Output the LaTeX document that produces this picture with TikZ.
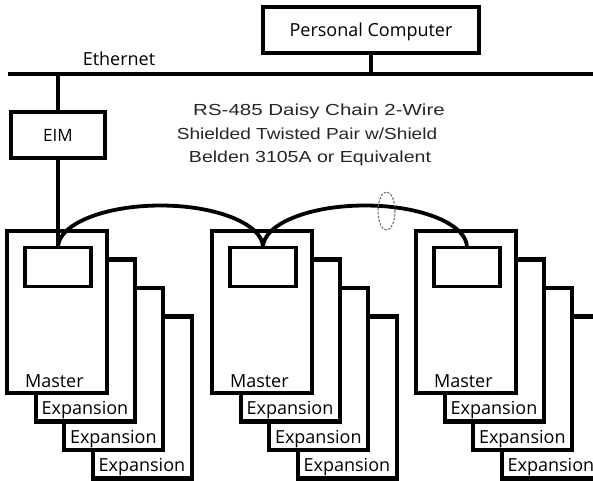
\documentclass[tikz,border=0pt]{standalone}
\usepackage{graphicx}
\usepackage{fontspec}
\setmainfont{Open Sans}
\newfontfamily\rsfont{Liberation Sans}
\usetikzlibrary{calc,shapes.geometric}
\tikzset{
  unitbox/.style={draw,line width=4.1pt,fill=white,inner sep=0pt,outer sep=0pt,anchor=north west,minimum width=99pt,minimum height=162pt},
  innerbox/.style={draw,line width=3.8pt,fill=white,inner sep=0pt,outer sep=0pt,anchor=north west,minimum width=66pt,minimum height=39pt},
  topbox/.style={draw,line width=4.1pt,fill=white,inner sep=0pt,outer sep=0pt,font=\fontsize{18}{20}\selectfont,text height=13pt,text depth=0pt},
  lab/.style={font=\fontsize{18}{20}\selectfont,inner sep=0pt,outer sep=0pt,anchor=base west},
  rstext/.style={font=\rsfont\fontsize{16}{19}\selectfont,text=black!85,inner sep=0pt,anchor=base},
  wire/.style={line width=4.1pt},
  cable/.style={line width=3.8pt},
  shieldmark/.style={ellipse,draw=black!60,dashed,dash pattern=on 2.4pt off 1.4pt,line width=1pt,minimum width=17pt,minimum height=38pt,inner sep=0pt}
}
\begin{document}
\begin{tikzpicture}[x=1pt,y=-1pt]
\useasboundingbox (0,0) rectangle (593,480);
\clip (0,0) rectangle (593,480);

% drive units
\foreach \X/\n in {7/1,212/2,416/3}{
  \node[unitbox] (x\n c) at ({\X+86.1},316.5) {};
  \node[unitbox] (x\n b) at ({\X+57.4},288) {};
  \node[unitbox] (x\n a) at ({\X+28.7},259.5) {};
  \node[unitbox,minimum width=100pt] (m\n) at (\X,231) {};
  \node[innerbox] (m\n in) at ({\X+18},247.5) {};
  \node[lab] (ml\n) at ({\X+18},387) {Master};
  \node[lab] (xl\n a) at ({\X+34.7},414.5) {Expansion};
  \node[lab] (xl\n b) at ({\X+63},443) {Expansion};
  \node[lab] (xl\n c) at ({\X+91.6},471.5) {Expansion};
}

% top
\node[topbox,minimum width=216pt,minimum height=46pt] (pc) at (371,30) {Personal Computer};
\node[lab,anchor=base] (ethlab) at (119,65) {Ethernet};
\coordinate (ethL) at (8,74);
\coordinate (ethR) at (600,74);
\draw[wire] (ethL) -- (ethR);
\draw[wire] (pc.south) -- (pc.south |- ethL);

\node[topbox,minimum width=94pt,minimum height=46pt,font=\fontsize{17}{20}\selectfont] (eim) at (58,135) {EIM};
\draw[wire] (eim.north |- ethL) -- (eim.north);
\draw[wire] (eim.south) -- (eim.south |- m1in.north);

% RS-485 text
\node[rstext] (rs1) at (319,115.7) {\scalebox{1.28}[1]{RS-485 Daisy Chain 2-Wire}};
\node[rstext] (rs2) at (307,139) {\scalebox{1.19}[1]{Shielded Twisted Pair w/Shield}};
\node[rstext] (rs3) at (310,162) {\scalebox{1.22}[1]{Belden 3105A or Equivalent}};

% cables
\draw[cable] (m1in.north) .. controls +(0,-23.2) and +(-56.5,0) ..
  ($(m1in.north)!0.5!(m2in.north)+(0,-42)$) .. controls +(56.5,0) and +(0,-23.2) .. (m2in.north);
\draw[cable] (m2in.north) .. controls +(0,-23.2) and +(-56.5,0) ..
  ($(m2in.north)!0.5!(m3in.north)+(0,-42)$) .. controls +(56.5,0) and +(0,-23.2) .. (m3in.north);

\node[shieldmark] (shield) at (386.5,211) {};
\end{tikzpicture}
\end{document}
